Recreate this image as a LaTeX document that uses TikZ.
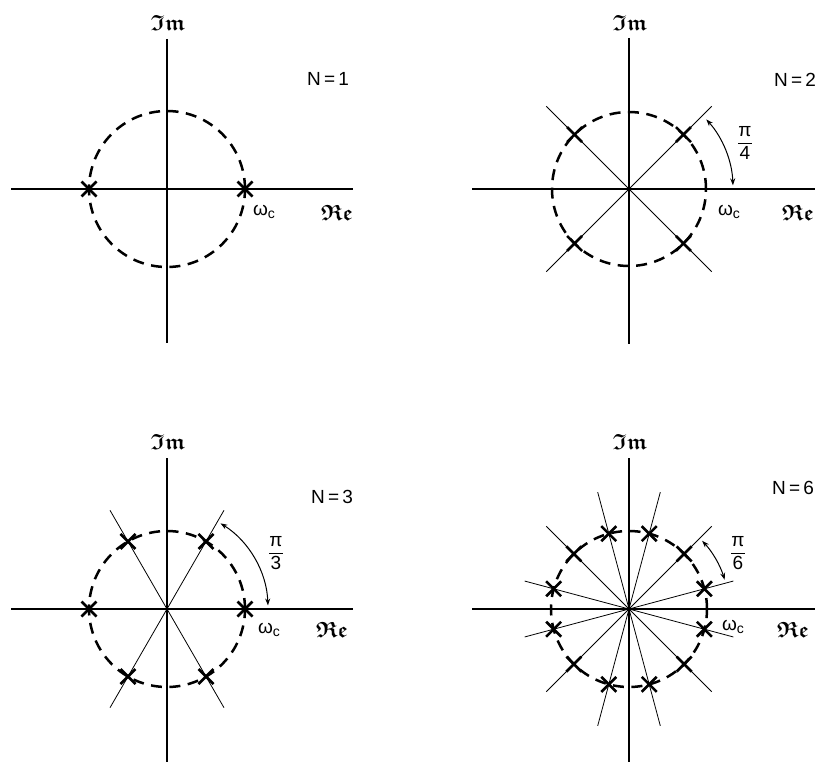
\documentclass[tikz,border=0pt]{standalone}
\usepackage{fontspec}
\setmainfont{Liberation Sans}
\usepackage{amssymb}
\usepackage{bm}
\usetikzlibrary{arrows.meta}
\tikzset{
  axisline/.style={line width=1.1pt},
  ray/.style={line width=0.8pt},
  ucircle/.style={line width=2.5pt, dash pattern=on 11pt off 7.5pt},
  pole/.style={line width=2.6pt},
  angarc/.style={line width=1pt, {Stealth[length=7pt,width=5pt]}-{Stealth[length=7pt,width=5pt]}},
  lbl/.style={font=\fontsize{19}{21}\selectfont, inner sep=0pt},
  axlbl/.style={font=\fontsize{22}{24}\selectfont, inner sep=0pt},
}
\newcommand\wclabel{ω\raisebox{-0.3ex}{\fontsize{14}{14}\selectfont c}}
\newcommand\pifrac[1]{$\displaystyle\frac{\mbox{π}}{\mbox{#1}}$}
\newcommand\imlbl{$\bm{\mathfrak{Im}}$}
\newcommand\relbl{$\bm{\mathfrak{Re}}$}
\begin{document}
\begin{tikzpicture}[x=1pt,y=1pt]
\useasboundingbox[fill=white] (0,-762) rectangle (818,0);

% ---------- N=1 ----------
\begin{scope}[shift={(167,-189)}]
  \draw[axisline] (-156,0) -- (186,0);
  \draw[axisline] (0,150) -- (0,-154);
  \draw[ucircle] (0,0) circle (78);
  \foreach \a in {0,180}
    \draw[pole] (\a:78) +(-7.5,-7.5) -- +(7.5,7.5) +(-7.5,7.5) -- +(7.5,-7.5);
  \node[axlbl] (im1) at (1,166) {\imlbl};
  \node[axlbl] (re1) at (170,-24) {\relbl};
  \node[lbl] (n1) at (161,110) {N\,=\,1};
  \node[lbl] (w1) at (97,-23) {\wclabel};
\end{scope}

% ---------- N=2 ----------
\begin{scope}[shift={(629,-189)}]
  \draw[axisline] (-157,0) -- (186,0);
  \draw[axisline] (0,151) -- (0,-155);
  \draw[ray] (45:117) -- (225:117);
  \draw[ray] (135:117) -- (315:117);
  \draw[ucircle] (0,0) circle (77);
  \foreach \a in {45,135,225,315}
    \draw[pole] (\a:77) +(-7.5,-7.5) -- +(7.5,7.5) +(-7.5,7.5) -- +(7.5,-7.5);
  \draw[angarc] (42:104) arc (42:2:104);
  \node[lbl] (f2) at (116,46) {\pifrac{4}};
  \node[axlbl] (im2) at (1,166) {\imlbl};
  \node[axlbl] (re2) at (169,-24) {\relbl};
  \node[lbl] (n2) at (166,109) {N\,=\,2};
  \node[lbl] (w2) at (100,-23) {\wclabel};
\end{scope}

% ---------- N=3 ----------
\begin{scope}[shift={(167,-609)}]
  \draw[axisline] (-156,0) -- (186,0);
  \draw[axisline] (0,151) -- (0,-153);
  \draw[ray] (60:114) -- (240:114);
  \draw[ray] (120:114) -- (300:114);
  \draw[ucircle] (0,0) circle (78);
  \foreach \a in {0,60,...,300}
    \draw[pole] (\a:78) +(-7.5,-7.5) -- +(7.5,7.5) +(-7.5,7.5) -- +(7.5,-7.5);
  \draw[angarc] (58:101) arc (58:2:101);
  \node[lbl] (f3) at (109,56) {\pifrac{3}};
  \node[axlbl] (im3) at (1,167) {\imlbl};
  \node[axlbl] (re3) at (165,-21) {\relbl};
  \node[lbl] (n3) at (165,112) {N\,=\,3};
  \node[lbl] (w3) at (102,-21) {\wclabel};
\end{scope}

% ---------- N=6 ----------
\begin{scope}[shift={(629,-609)}]
  \draw[axisline] (-157,0) -- (186,0);
  \draw[axisline] (0,151) -- (0,-153);
  \foreach \a/\r in {15/108,45/117,75/121,105/121,135/117,165/108}
    \draw[ray] (\a:\r) -- (\a+180:\r);
  \draw[ucircle] (0,0) circle (78);
  \foreach \a in {15,45,...,345}
    \draw[pole] (\a:78) +(-7.5,-7.5) -- +(7.5,7.5) +(-7.5,7.5) -- +(7.5,-7.5);
  \draw[angarc] (43:100) arc (43:17:100);
  \node[lbl] (f6) at (109,56) {\pifrac{6}};
  \node[axlbl] (im6) at (1,167) {\imlbl};
  \node[axlbl] (re6) at (164,-21) {\relbl};
  \node[lbl] (n6) at (164,121) {N\,=\,6};
  \node[lbl] (w6) at (104,-18) {\wclabel};
\end{scope}
\end{tikzpicture}
\end{document}
